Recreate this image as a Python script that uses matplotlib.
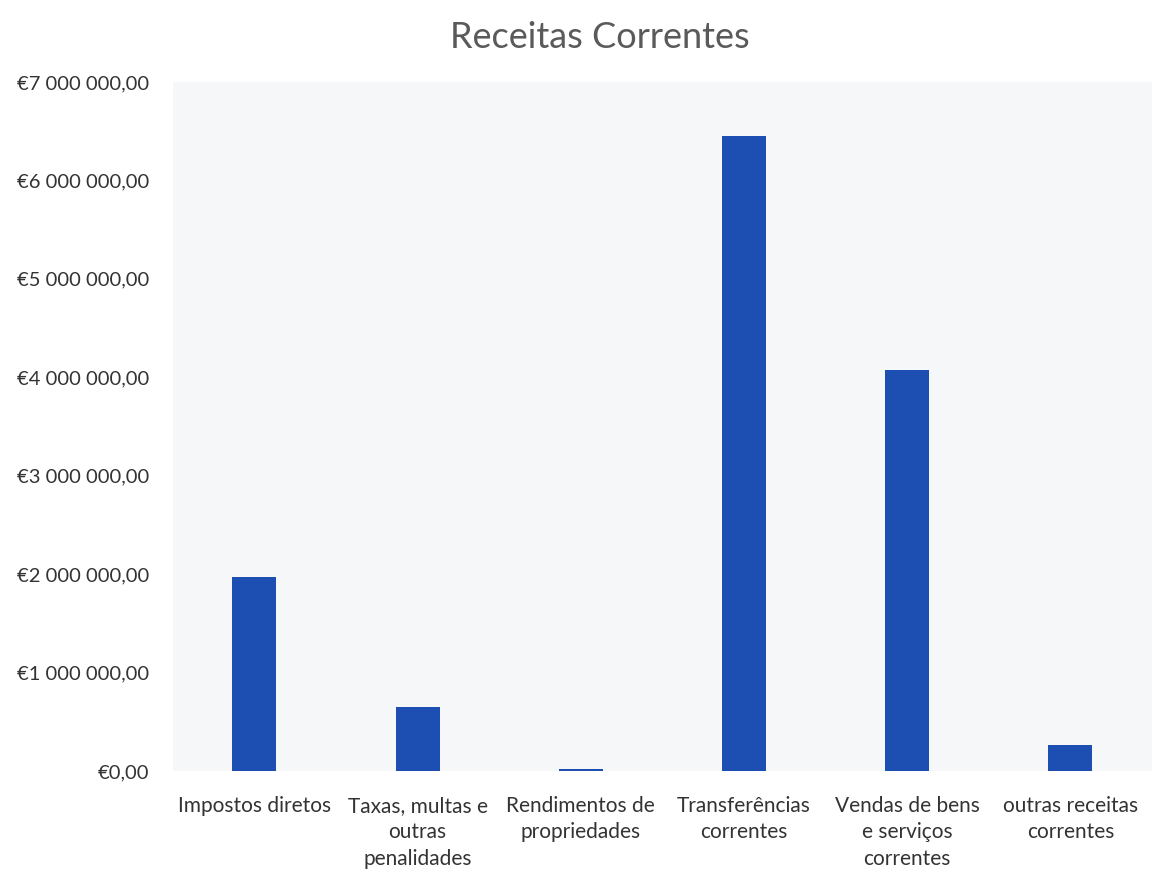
import matplotlib.pyplot as plt
from matplotlib.ticker import FuncFormatter, MultipleLocator
import numpy as np

# dados
categorias = [
    'Impostos diretos',
    'Taxas, multas e\noutras\npenalidades',
    'Rendimentos de\npropriedades',
    'Transferências\ncorrentes',
    'Vendas de bens\ne serviços\ncorrentes',
    'outras receitas\ncorrentes',
]
valores = [1970000, 650000, 20000, 6450000, 4070000, 260000]

plt.rcParams['font.family'] = ['Lato', 'DejaVu Sans']


def formato_euro(v, pos):
    s = f"{v:,.2f}"
    inteiro, dec = s.split('.')
    return '€' + inteiro.replace(',', ' ') + ',' + dec


fig = plt.figure(figsize=(11.52, 8.69), dpi=100)
ax = fig.add_axes([0.15, 0.1128, 0.85, 0.7928])

# fundo ligeiramente cinzento como no digitalizado
ax.set_facecolor('#f6f7f9')

x = np.arange(len(categorias))
ax.bar(x, valores, width=0.27, color='#1d4fb3', zorder=3)

ax.set_xlim(-0.5, len(categorias) - 0.5)
ax.set_ylim(0, 7000000)
ax.yaxis.set_major_locator(MultipleLocator(1000000))
ax.yaxis.set_major_formatter(FuncFormatter(formato_euro))

ax.set_xticks(x)
ax.set_xticklabels(categorias, fontsize=15, color='#333333', linespacing=1.4)
ax.tick_params(axis='y', labelsize=14.5, labelcolor='#333333', length=0, pad=17)
ax.tick_params(axis='x', length=0, pad=18)

for s in ax.spines.values():
    s.set_visible(False)

fig.text(0.521, 0.957, 'Receitas Correntes', ha='center', va='center',
         fontsize=26, color='#5a5a5a')

fig.savefig('out.png', dpi=100, facecolor='white')
